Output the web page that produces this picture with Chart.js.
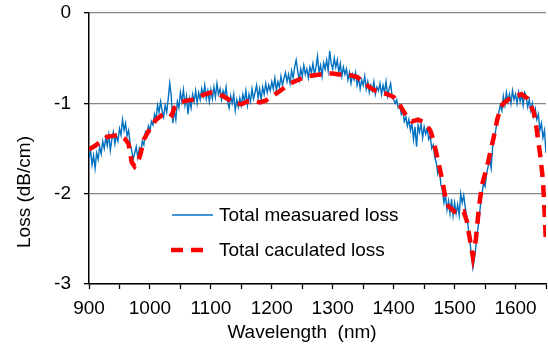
<!DOCTYPE html>
<html>
<head>
<meta charset="utf-8">
<script src="https://cdn.jsdelivr.net/npm/chart.js@4/dist/chart.umd.min.js"></script>
<style>
  html, body { margin: 0; padding: 0; background: #fff; }
  #wrap { width: 548px; height: 347px; }
</style>
</head>
<body>
<div id="wrap"><canvas id="lossChart" width="548" height="347"></canvas></div>
<script>
// measured loss, read every 2.5 nm from 900 to 1650
let measWl = [];
for (let w = 900; w <= 1650; w += 2.5) measWl.push(w);
let measLoss = [
  // 900 - 1000
  -1.60, -1.52, -1.68, -1.58, -1.72, -1.55, -1.62, -1.48, -1.56, -1.42,
  -1.50, -1.38, -1.47, -1.35, -1.52, -1.40, -1.32, -1.45, -1.36, -1.42,
  -1.28, -1.35, -1.18, -1.30, -1.22, -1.36, -1.30, -1.45, -1.52, -1.62,
  -1.55, -1.48, -1.60, -1.50, -1.56, -1.42, -1.46, -1.32, -1.36, -1.25,
  -1.30,
  // 1002.5 - 1100
  -1.20, -1.24, -1.12, -1.18, -1.02, -1.10, -0.98, -1.08, -1.15, -1.02,
  -1.10, -0.95, -0.78, -0.92, -1.22, -1.08, -1.18, -0.98, -1.05, -0.88,
  -0.98, -0.85, -1.02, -0.92, -1.12, -0.95, -1.05, -0.90, -0.98, -0.86,
  -1.00, -0.88, -0.96, -0.84, -0.92, -0.80, -0.95, -0.86, -0.98, -0.85,
  // 1102.5 - 1200
  -0.95, -0.82, -0.93, -0.78, -0.90, -0.84, -0.96, -0.86, -0.92, -0.82,
  -0.98, -1.05, -0.92, -1.00, -0.90, -1.08, -0.96, -1.04, -0.94, -1.02,
  -0.90, -0.98, -0.86, -1.02, -0.90, -0.98, -0.84, -0.95, -0.88, -0.80,
  -0.94, -0.84, -0.96, -0.82, -0.90, -0.78, -0.88, -0.80, -0.86, -0.76,
  // 1202.5 - 1300
  -0.84, -0.72, -0.86, -0.76, -0.82, -0.70, -0.80, -0.72, -0.66, -0.76,
  -0.68, -0.78, -0.64, -0.72, -0.60, -0.52, -0.64, -0.74, -0.62, -0.70,
  -0.58, -0.68, -0.62, -0.72, -0.60, -0.66, -0.56, -0.68, -0.60, -0.48,
  -0.66, -0.58, -0.70, -0.55, -0.62, -0.52, -0.64, -0.42, -0.56, -0.62,
  // 1302.5 - 1400
  -0.50, -0.60, -0.52, -0.66, -0.56, -0.70, -0.60, -0.68, -0.62, -0.74,
  -0.66, -0.78, -0.68, -0.74, -0.66, -0.80, -0.72, -0.84, -0.74, -0.80,
  -0.70, -0.84, -0.76, -0.88, -0.80, -0.86, -0.76, -0.90, -0.82, -0.86,
  -0.78, -0.90, -0.80, -0.88, -0.76, -0.92, -0.84, -0.78, -0.92, -0.96,
  // 1402.5 - 1500
  -1.00, -0.96, -1.05, -1.02, -1.12, -1.08, -1.20, -1.15, -1.25, -1.18,
  -1.30, -1.22, -1.40, -1.26, -1.48, -1.24, -1.32, -1.22, -1.38, -1.26,
  -1.34, -1.28, -1.40, -1.36, -1.50, -1.46, -1.60, -1.66, -1.78, -1.72,
  -1.90, -1.96, -2.10, -2.02, -2.18, -2.08, -2.22, -2.06, -2.24, -2.10,
  // 1502.5 - 1600
  -2.22, -2.12, -2.24, -2.00, -2.10, -2.02, -2.15, -2.25, -2.38, -2.52,
  -2.68, -2.82, -2.72, -2.58, -2.42, -2.30, -2.12, -2.00, -1.88, -1.92,
  -1.78, -1.70, -1.62, -1.72, -1.48, -1.38, -1.30, -1.18, -1.10, -1.02,
  -1.08, -0.92, -1.02, -0.88, -0.98, -0.90, -1.00, -0.86, -0.96, -0.90,
  // 1602.5 - 1650
  -1.00, -0.88, -0.98, -0.90, -1.02, -0.88, -0.92, -1.04, -0.96, -1.08,
  -1.00, -1.14, -1.06, -1.18, -1.12, -1.30, -1.22, -1.38, -1.30, -1.55
];

// calculated loss
let calcWl = [
  900, 910, 920, 930, 940, 950, 960, 965, 970, 975, 980, 985, 990, 1000,
  1010, 1020, 1030, 1036, 1040, 1050, 1060, 1070, 1080, 1090, 1100, 1110,
  1120, 1130, 1140, 1150, 1160, 1170, 1180, 1190, 1200, 1210, 1220, 1230,
  1240, 1250, 1260, 1270, 1280, 1290, 1300, 1310, 1320, 1330, 1340, 1350,
  1360, 1370, 1380, 1390, 1400, 1410, 1420, 1430, 1440, 1450, 1460, 1465,
  1470, 1475, 1480, 1485, 1490, 1500, 1510, 1515, 1520, 1525, 1530, 1535,
  1540, 1545, 1550, 1555, 1560, 1565, 1570, 1575, 1580, 1590, 1600, 1610,
  1620, 1630, 1635, 1640, 1645, 1648, 1650
];
let calcLoss = [
  -1.51, -1.47, -1.42, -1.37, -1.36, -1.35, -1.40, -1.45, -1.65, -1.70, -1.66, -1.55, -1.40, -1.28,
  -1.18, -1.13, -1.10, -1.13, -1.05, -0.99, -0.97, -0.96, -0.93, -0.90, -0.88, -0.89,
  -0.92, -0.96, -1.00, -1.01, -0.98, -0.97, -0.99, -0.97, -0.92, -0.88, -0.83, -0.78,
  -0.75, -0.72, -0.70, -0.69, -0.68, -0.67, -0.67, -0.68, -0.68, -0.69, -0.71, -0.76,
  -0.82, -0.86, -0.88, -0.90, -0.93, -1.02, -1.13, -1.20, -1.18, -1.21, -1.30, -1.40,
  -1.55, -1.70, -1.86, -2.05, -2.14, -2.20, -2.22, -2.20, -2.30, -2.50, -2.70, -2.50,
  -2.15, -1.90, -1.78, -1.65, -1.50, -1.35, -1.18, -1.06, -1.00, -0.95, -0.92, -0.90,
  -0.95, -1.10, -1.30, -1.55, -1.85, -2.25, -2.56
];

let seriesNames = ['Total measuared loss', 'Total caculated loss'];
let xTitle = 'Wavelength  (nm)';
let yTitle = 'Loss (dB/cm)';

const FONT = '"Liberation Sans", Arial, sans-serif';

// axis titles + legend drawn inside the plot like the original
const extras = {
  id: 'extras',
  afterDraw(chart) {
    const ctx = chart.ctx;
    ctx.save();
    ctx.fillStyle = '#000';
    ctx.font = '19px ' + FONT;
    ctx.textAlign = 'center';
    ctx.textBaseline = 'middle';
    ctx.fillText(xTitle, 302, 333);
    ctx.translate(25, 192);
    ctx.rotate(-Math.PI / 2);
    ctx.fillText(yTitle, 0, 0);
    ctx.restore();

    // legend
    const ds = chart.data.datasets;
    const rows = [[172, 213, 215], [171, 211, 250]];
    ctx.save();
    ds.forEach((d, i) => {
      const [x0, x1, y] = rows[i];
      ctx.beginPath();
      ctx.strokeStyle = d.borderColor;
      ctx.lineWidth = d.borderWidth;
      ctx.setLineDash(d.borderDash || []);
      ctx.moveTo(x0, y);
      ctx.lineTo(x1, y);
      ctx.stroke();
      ctx.setLineDash([]);
      ctx.fillStyle = '#000';
      ctx.font = '19px ' + FONT;
      ctx.textAlign = 'left';
      ctx.textBaseline = 'middle';
      ctx.fillText(d.label, 219, y + 1);
    });
    ctx.restore();
  }
};

new Chart(document.getElementById('lossChart'), {
  type: 'line',
  data: {
    datasets: [
      {
        label: seriesNames[0],
        data: measWl.map((w, i) => ({ x: w, y: measLoss[i] })),
        borderColor: '#0070C0',
        borderWidth: 1.4,
        pointRadius: 0,
        tension: 0,
        order: 1
      },
      {
        label: seriesNames[1],
        data: calcWl.map((w, i) => ({ x: w, y: calcLoss[i] })),
        borderColor: '#FF0000',
        borderWidth: 4.5,
        borderDash: [12, 8],
        pointRadius: 0,
        tension: 0,
        order: 0
      }
    ]
  },
  options: {
    responsive: false,
    animation: false,
    layout: { padding: { top: 13, right: 2, left: 0, bottom: 0 } },
    plugins: { legend: { display: false }, tooltip: { enabled: false } },
    scales: {
      x: {
        type: 'linear',
        min: 900,
        max: 1650,
        afterFit: (s) => { s.height = 63; s.paddingLeft = 0; s.paddingRight = 0; },
        border: { color: '#000', width: 1.5 },
        grid: { drawOnChartArea: false, drawTicks: true, tickLength: 5, tickColor: '#000', tickWidth: 1.3 },
        ticks: {
          stepSize: 50,
          autoSkip: false,
          maxRotation: 0,
          padding: 8,
          color: '#000',
          font: { family: FONT, size: 19 },
          callback: (v) => (v % 100 === 0 ? v : '')
        }
      },
      y: {
        min: -3,
        max: 0,
        afterFit: (s) => { s.width = 89; s.paddingTop = 0; s.paddingBottom = 0; },
        border: { color: '#000', width: 1.5 },
        grid: { color: '#888', lineWidth: 1.3, tickLength: 5, tickColor: '#000', tickWidth: 1.3 },
        ticks: {
          stepSize: 1,
          padding: 13,
          color: '#000',
          font: { family: FONT, size: 19 }
        }
      }
    }
  },
  plugins: [extras]
});
</script>
</body>
</html>
